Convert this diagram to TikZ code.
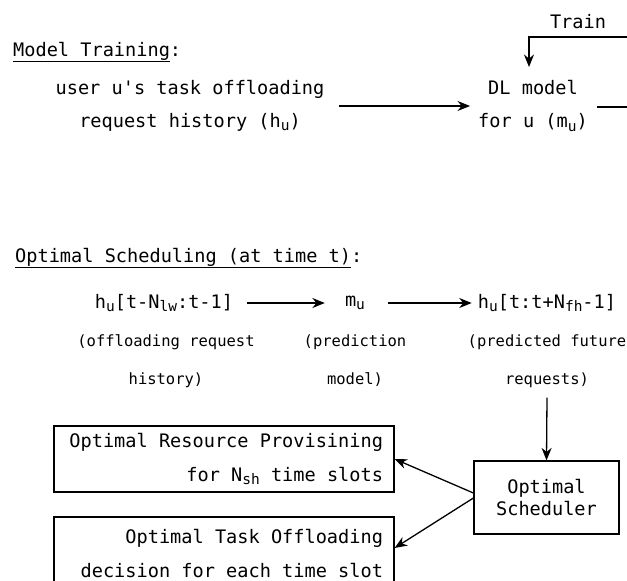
\documentclass[tikz,border=0pt]{standalone}
\usepackage{fontspec}
\newfontfamily\dmono{DejaVu Sans Mono}
\newcommand\sbs[1]{\raisebox{-0.32ex}{\fontsize{14.5}{14.5}\selectfont #1}}
\usetikzlibrary{arrows.meta}
\begin{document}
\begin{tikzpicture}[x=1pt,y=-1pt,
  lbl/.style={font=\dmono\fontsize{18.6}{33}\selectfont, align=center, inner sep=0pt},
  sublbl/.style={font=\dmono\fontsize{15.5}{38}\selectfont, align=center, inner sep=0pt},
  boxr/.style={draw, line width=1.2pt, font=\dmono\fontsize{18.6}{34.5}\selectfont, align=flush right,
    inner xsep=11pt, text width=318pt, minimum height=66pt},
  schedbox/.style={draw, line width=1.2pt, font=\dmono\fontsize{18.6}{22}\selectfont, align=center,
    minimum width=145pt, minimum height=73pt},
  arr/.style={line width=1.3pt, -{Stealth[length=12.5pt,width=10pt]}},
  ln/.style={line width=1.3pt}]
\clip (0,0) rectangle (627,581);
\fill[white] (0,0) rectangle (627,581);
% Model training
\node[lbl, anchor=west] (title1) at (13,52) {\underline{Model Training}:};
\node[lbl] (hist) at (190,106) {user u's task offloading\\request history (h\sbs{u})};
\node[lbl] (dl) at (533,106) {DL model\\for u (m\sbs{u})};
\node[lbl] (train) at (578,22) {Train};
\coordinate (loopR) at (660,107);
\coordinate (loopL) at (529,37);
\coordinate (tipT) at (529,67);
\draw[arr] ([xshift=14pt]hist.east) -- ([xshift=-8pt]dl.west);
\draw[arr] ([xshift=9pt,yshift=-1pt]dl.east) -- (loopR) |- (loopL) -- (tipT);
% Scheduling
\node[lbl, anchor=west] (title2) at (15,258) {\underline{Optimal Scheduling (at time t)}:};
\node[lbl] (hl) at (164,303) {h\sbs{u}[t-N\sbs{lw}:t-1]};
\node[lbl] (mu) at (355,303) {m\sbs{u}};
\node[lbl] (hf) at (547,303) {h\sbs{u}[t:t+N\sbs{fh}-1]};
\node[sublbl] (s1) at (166,361) {(offloading request\\history)};
\node[sublbl] (s2) at (355,361) {(prediction\\model)};
\node[sublbl] (s3) at (547,361) {(predicted future\\requests)};
\draw[arr] ([xshift=14pt]hl.east) -- ([xshift=-20pt]mu.west);
\draw[arr] ([xshift=23pt]mu.east) -- ([xshift=-6pt]hf.west);
\node[schedbox] (sched) at (546.5,497.5) {Optimal\\Scheduler};
\draw[arr] ([yshift=-10pt]s3.south) -- (sched.north);
\node[boxr] (box1) at (224,459) {Optimal Resource Provisining\\for N\sbs{sh} time slots};
\node[boxr, minimum height=73pt] (box2) at (224,553.5) {Optimal Task Offloading\\decision for each time slot};
\draw[arr] ([yshift=4.5pt]sched.west) -- (box1.east);
\draw[arr] ([yshift=-0.5pt]sched.west) -- ([yshift=5.5pt]box2.east);
\end{tikzpicture}
\end{document}
